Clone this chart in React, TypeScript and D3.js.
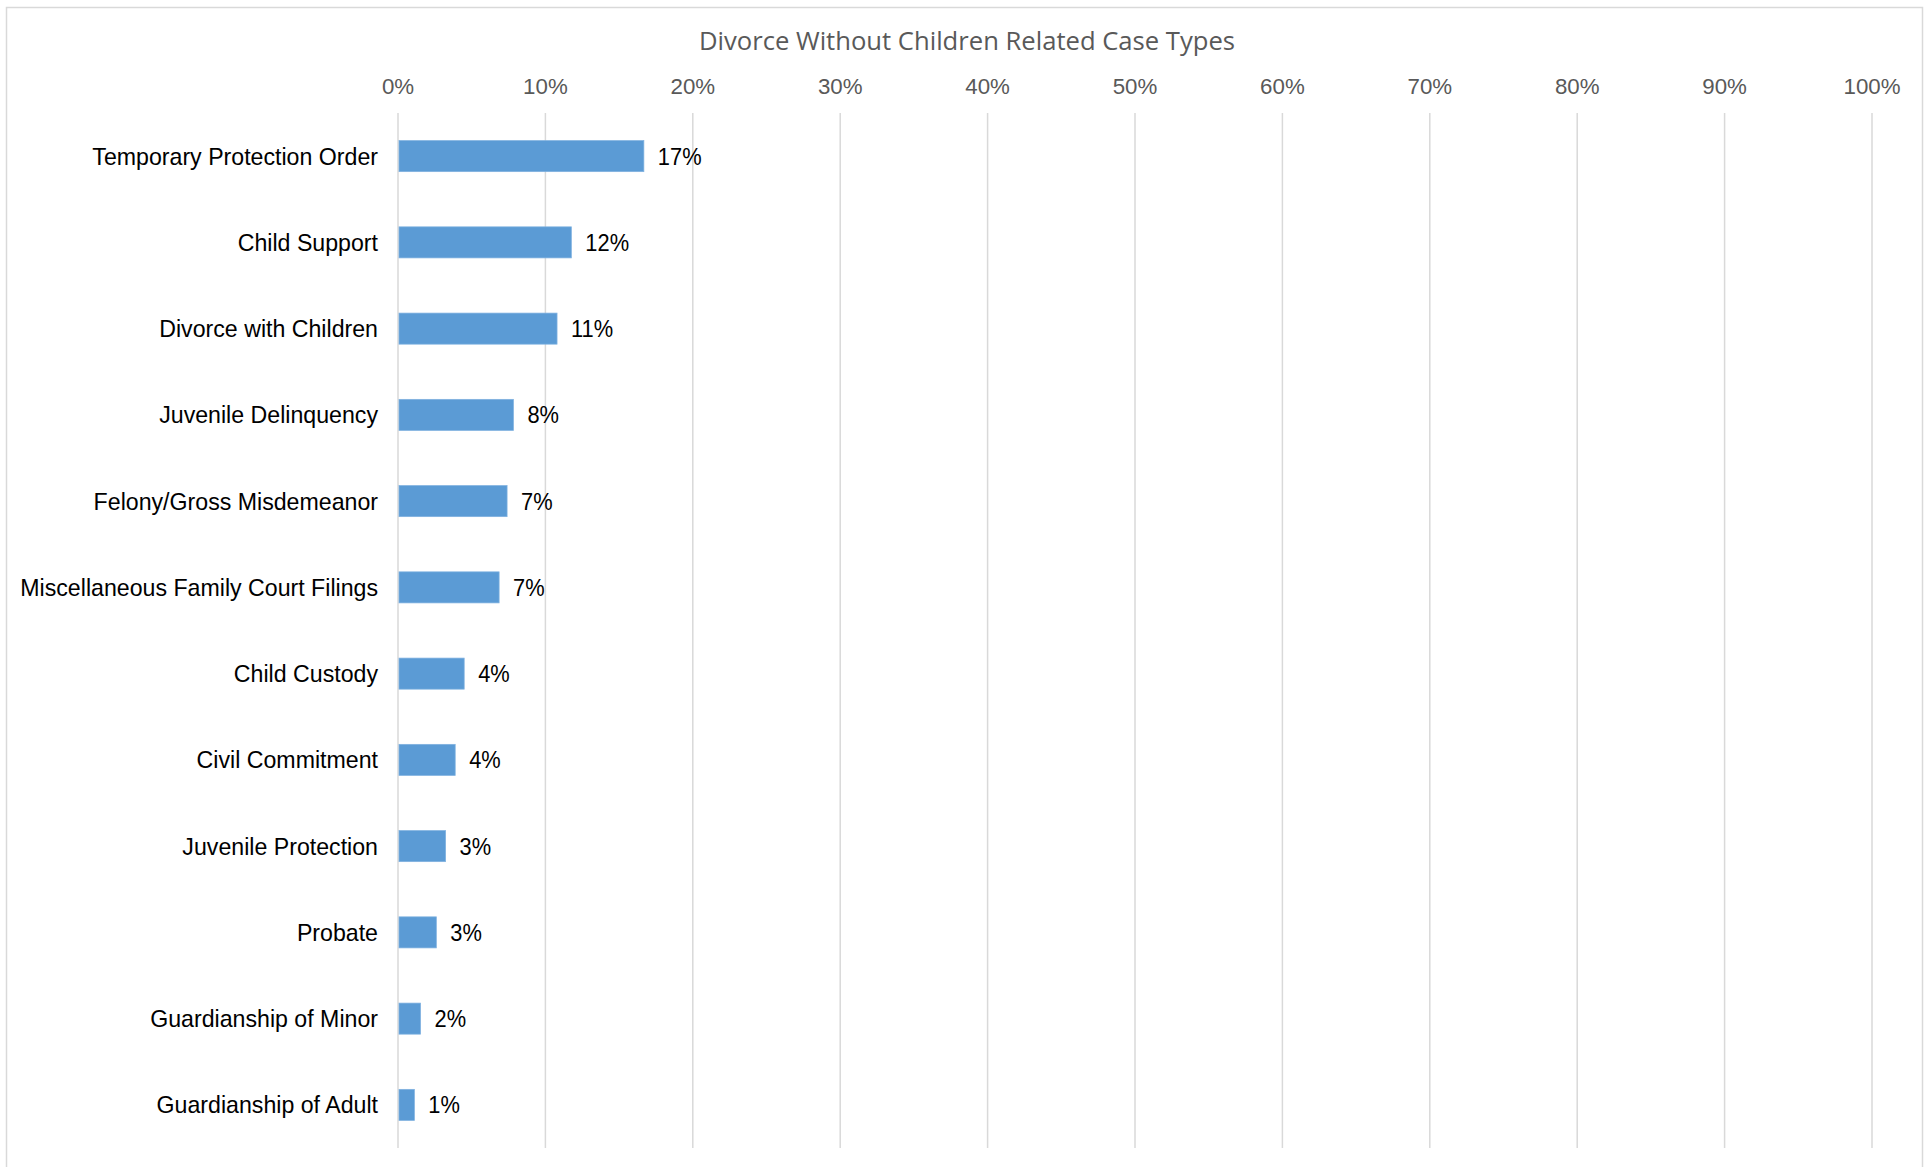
import React from "react";
import * as d3 from "d3";

const categories = [
  "Temporary Protection Order",
  "Child Support",
  "Divorce with Children",
  "Juvenile Delinquency",
  "Felony/Gross Misdemeanor",
  "Miscellaneous Family Court Filings",
  "Child Custody",
  "Civil Commitment",
  "Juvenile Protection",
  "Probate",
  "Guardianship of Minor",
  "Guardianship of Adult",
];
const values = [0.1668, 0.1176, 0.1079, 0.0783, 0.074, 0.0686, 0.0449, 0.0388, 0.0323, 0.026, 0.0153, 0.0111];
const xTicks = [0, 0.1, 0.2, 0.3, 0.4, 0.5, 0.6, 0.7, 0.8, 0.9, 1.0];
const title = "Divorce Without Children Related Case Types";

const W = 1925;
const H = 1167;
const left = 398;
const right = 1872;
const top = 113;
const bottom = 1148;

export default function App() {
  const x = d3.scaleLinear().domain([0, 1]).range([left, right]);
  const y = d3.scaleBand<string>().domain(categories).range([top, bottom]).paddingInner(0.64).paddingOuter(0.32);
  const fmt = d3.format(".0%");
  const font = "'Liberation Sans', Arial, sans-serif";
  return (
    <svg width={W} height={H} style={{ position: "absolute", left: 0, top: 0, background: "#fff" }}>
      <rect x={6.5} y={7.5} width={1916} height={1170} fill="#fff" stroke="#d9d9d9" strokeWidth={1.5} />
      <text x={967} y={50} textAnchor="middle" fontFamily="'Open Sans', sans-serif" fontSize={25} fill="#595959" textLength={536} lengthAdjust="spacingAndGlyphs">
        {title}
      </text>
      {xTicks.map((t) => (
        <g key={t}>
          <line x1={x(t)} x2={x(t)} y1={top} y2={bottom} stroke="#d9d9d9" strokeWidth={1.5} />
          <text transform={`translate(${x(t)},94) scale(0.97,1)`} textAnchor="middle" fontFamily={font} fontSize={23} fill="#595959">
            {fmt(t)}
          </text>
        </g>
      ))}
      {categories.map((c, i) => {
        const yc = (y(c) as number) + y.bandwidth() / 2;
        return (
          <g key={c}>
            <rect x={x(0) + 1} y={y(c)} width={x(values[i]) - x(0) - 1} height={y.bandwidth()} fill="#5B9BD5" stroke="#7fb1e0" strokeWidth={0.75} />
            <text transform={`translate(${left - 20},${yc + 8.5}) scale(0.965,1)`} textAnchor="end" fontFamily={font} fontSize={24} fill="#000">
              {c}
            </text>
            <text transform={`translate(${x(values[i]) + 14},${yc + 8.5}) scale(0.95,1)`} textAnchor="start" fontFamily={font} fontSize={23} fill="#000">
              {fmt(values[i])}
            </text>
          </g>
        );
      })}
    </svg>
  );
}
